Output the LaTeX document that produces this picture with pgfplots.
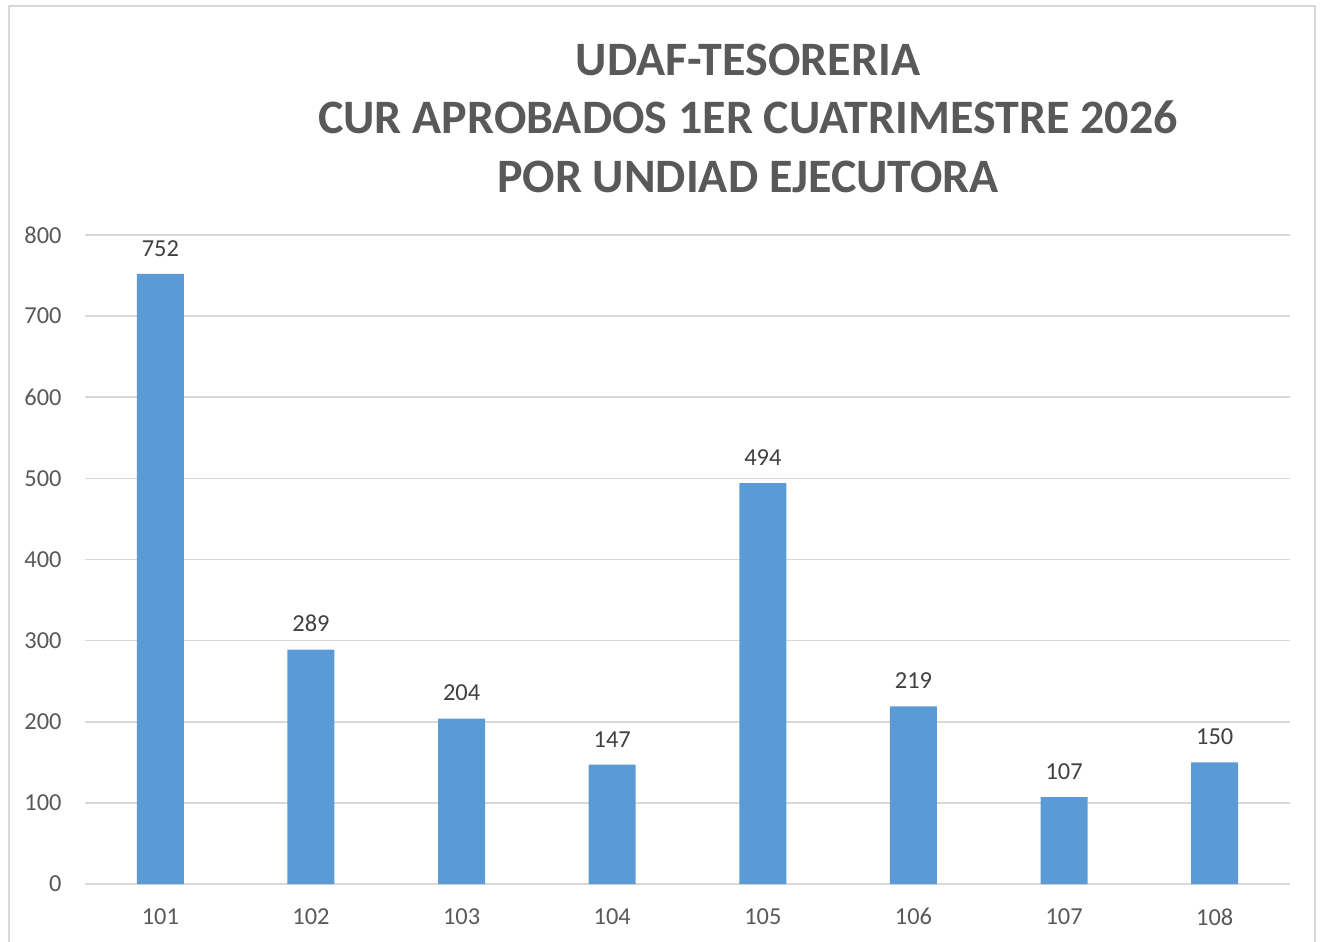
\documentclass[border=0pt]{standalone}
\usepackage{pgfplots}
\pgfplotsset{compat=1.18}
\usepackage{fontspec}
\setmainfont{Carlito}
\definecolor{barblue}{HTML}{5B9BD5}
\definecolor{txtgray}{HTML}{595959}
\definecolor{lblgray}{HTML}{404040}
\definecolor{gridgray}{HTML}{D9D9D9}
\begin{document}
\begin{tikzpicture}
\begin{axis}[
  width=602.5pt, height=324.5pt, scale only axis,
  xmin=-0.5, xmax=7.5, ymin=0, ymax=800,
  ybar, bar width=23.5pt,
  xtick={0,1,2,3,4,5,6,7},
  xticklabels={101,102,103,104,105,106,107,108},
  ytick={0,100,200,300,400,500,600,700,800},
  axis line style={draw=none},
  major tick length=0pt,
  ymajorgrids, grid style={gridgray, line width=0.8pt},
  tick label style={text=txtgray, font=\fontsize{12.2}{14}\selectfont},
  /pgf/number format/assume math mode=true,
  xticklabel style={anchor=north, inner sep=0pt, yshift=-12pt},
  yticklabel style={anchor=east, inner sep=0pt, xshift=-11.5pt},
  nodes near coords,
  every node near coord/.append style={text=lblgray, font=\fontsize{12.2}{14}\selectfont, anchor=south, inner sep=0pt, yshift=8.5pt},
]
\addplot[fill=barblue, draw=none] coordinates {(0,752) (1,289) (2,204) (3,147) (4,494) (5,219) (6,107) (7,150)};
\end{axis}
\begin{scope}[shift={(current axis.south west)}, x=1pt, y=1pt]
\draw[gridgray, line width=0.8pt] (-38,-31) -- (-38,439) -- (615,439) -- (615,-31);
\node[text=txtgray, font=\fontsize{24}{29}\selectfont\bfseries, anchor=base] at (331.5,404) {UDAF-TESORERIA};
\node[text=txtgray, font=\fontsize{24}{29}\selectfont\bfseries, anchor=base] at (331.5,375) {CUR APROBADOS 1ER CUATRIMESTRE 2026};
\node[text=txtgray, font=\fontsize{24}{29}\selectfont\bfseries, anchor=base] at (331.5,345.5) {POR UNDIAD EJECUTORA};
\pgfresetboundingbox
\path[use as bounding box] (-42.5,-28.5) rectangle (617.5,442);
\end{scope}
\end{tikzpicture}
\end{document}
